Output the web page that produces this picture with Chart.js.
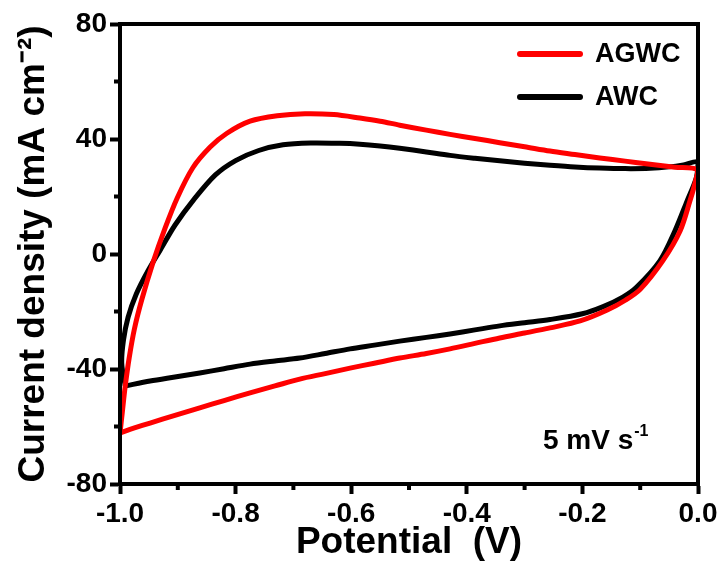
<!DOCTYPE html>
<html>
<head>
<meta charset="utf-8">
<script src="https://cdn.jsdelivr.net/npm/chart.js@4.4.1/dist/chart.umd.min.js"></script>
<style>
  html, body { margin: 0; padding: 0; background: #fff; }
  #wrap { width: 721px; height: 565px; }
</style>
</head>
<body>
<div id="wrap"><canvas id="cv"></canvas></div>
<script>
// AGWC - anodic (upper) branch, -1.0 -> 0.0 V
const agwcUpperV = [-1.0, -0.996, -0.991, -0.984, -0.975, -0.9625, -0.943, -0.922, -0.901, -0.874, -0.844, -0.815, -0.775, -0.728, -0.68, -0.63, -0.585, -0.55, -0.516, -0.47, -0.429, -0.386, -0.343, -0.30, -0.256, -0.213, -0.17, -0.126, -0.083, -0.04, 0.0];
const agwcUpperJ = [-62.3, -55.0, -46.0, -36.0, -26.0, -16.0, -3.0, 9.0, 19.5, 30.0, 37.2, 42.0, 46.2, 48.1, 48.8, 48.5, 47.3, 46.2, 44.8, 43.1, 41.6, 40.2, 38.7, 37.3, 35.8, 34.6, 33.4, 32.3, 31.2, 30.2, 29.2];
// AGWC - cathodic (lower) branch, 0.0 -> -1.0 V
const agwcLowerV = [-0.006, -0.014, -0.031, -0.061, -0.10, -0.125, -0.157, -0.204, -0.256, -0.30, -0.343, -0.386, -0.429, -0.47, -0.516, -0.56, -0.602, -0.645, -0.689, -0.732, -0.775, -0.82, -0.862, -0.905, -0.948, -0.975, -0.991, -1.0];
const agwcLowerJ = [24.0, 18.4, 8.0, -2.4, -12.3, -16.0, -19.5, -23.3, -25.7, -27.5, -29.2, -31.1, -33.0, -34.6, -36.2, -38.0, -39.7, -41.6, -43.5, -45.9, -48.3, -51.0, -53.5, -56.1, -58.8, -60.5, -61.6, -62.3];

// AWC - anodic (upper) branch
const awcUpperV = [-0.991, -0.997, -0.994, -0.986, -0.972, -0.952, -0.93, -0.905, -0.872, -0.835, -0.80, -0.76, -0.718, -0.67, -0.62, -0.585, -0.55, -0.516, -0.47, -0.429, -0.386, -0.343, -0.30, -0.256, -0.213, -0.17, -0.126, -0.083, -0.05, -0.025, 0.0];
const awcUpperJ = [-45.9, -38.0, -30.0, -22.0, -14.0, -6.0, 1.5, 10.0, 19.0, 27.5, 32.5, 36.0, 38.0, 38.6, 38.5, 38.2, 37.6, 36.8, 35.5, 34.3, 33.3, 32.4, 31.6, 30.9, 30.3, 29.9, 29.7, 29.8, 30.3, 31.0, 32.0];
// AWC - cathodic (lower) branch
const awcLowerV = [-0.003, -0.019, -0.040, -0.066, -0.106, -0.13, -0.164, -0.20, -0.256, -0.30, -0.343, -0.386, -0.429, -0.47, -0.516, -0.56, -0.602, -0.645, -0.689, -0.732, -0.775, -0.82, -0.862, -0.905, -0.948, -0.991];
const awcLowerJ = [26.5, 18.4, 8.0, -2.4, -11.5, -15.0, -18.3, -20.8, -22.8, -23.9, -25.0, -26.4, -27.8, -29.0, -30.3, -31.7, -33.0, -34.6, -36.2, -37.2, -38.3, -39.9, -41.4, -42.8, -44.2, -45.9];

const seriesNames = ['AGWC', 'AWC'];
const seriesColors = ['#ff0000', '#000000'];

const xTicks = [-1.0, -0.8, -0.6, -0.4, -0.2, 0.0];
const xMinor = [-0.9, -0.7, -0.5, -0.3, -0.1];
const yTicks = [-80, -40, 0, 40, 80];
const yMinor = [-60, -20, 20, 60];

const FONT = "'Liberation Sans', Arial, Helvetica, sans-serif";

function loop(uv, uj, lv, lj) {
  const pts = [];
  uv.forEach((v, i) => pts.push({x: v, y: uj[i]}));
  lv.forEach((v, i) => pts.push({x: v, y: lj[i]}));
  return pts;
}

// frame, minor ticks, legend, note
const extras = {
  id: 'extras',
  afterDraw(chart) {
    const ctx = chart.ctx;
    const a = chart.chartArea;
    const xs = chart.scales.x, ys = chart.scales.y;
    ctx.save();
    ctx.strokeStyle = '#000';
    ctx.lineWidth = 4;
    ctx.strokeRect(a.left, a.top, a.right - a.left, a.bottom - a.top);

    ctx.beginPath();
    xMinor.forEach(v => {
      const px = xs.getPixelForValue(v);
      ctx.moveTo(px, a.bottom);
      ctx.lineTo(px, a.bottom + 6);
    });
    yMinor.forEach(v => {
      const py = ys.getPixelForValue(v);
      ctx.moveTo(a.left, py);
      ctx.lineTo(a.left - 6, py);
    });
    ctx.stroke();

    // legend
    ctx.lineCap = 'round';
    ctx.lineWidth = 6;
    ctx.font = 'bold 27px ' + FONT;
    ctx.textBaseline = 'middle';
    chart.data.datasets.forEach((ds, i) => {
      const y = 54 + i * 43;
      ctx.strokeStyle = ds.borderColor;
      ctx.beginPath();
      ctx.moveTo(520, y);
      ctx.lineTo(580, y);
      ctx.stroke();
      ctx.fillStyle = '#000';
      ctx.fillText(ds.label, 595, y + 1);
    });

    // scan rate note
    ctx.textBaseline = 'alphabetic';
    ctx.font = 'bold 28px ' + FONT;
    const main = '5 mV s';
    ctx.fillText(main, 543, 449);
    const w = ctx.measureText(main).width;
    ctx.font = 'bold 16px ' + FONT;
    ctx.fillText('-1', 543 + w + 1, 436);
    ctx.restore();
  }
};

new Chart(document.getElementById('cv'), {
  type: 'scatter',
  data: {
    datasets: [
      {
        label: seriesNames[0],
        data: loop(agwcUpperV, agwcUpperJ, agwcLowerV, agwcLowerJ),
        borderColor: seriesColors[0],
        backgroundColor: seriesColors[0],
        showLine: true,
        borderWidth: 5,
        pointRadius: 0,
        tension: 0.3
      },
      {
        label: seriesNames[1],
        data: loop(awcUpperV, awcUpperJ, awcLowerV, awcLowerJ),
        borderColor: seriesColors[1],
        backgroundColor: seriesColors[1],
        showLine: true,
        borderWidth: 5,
        pointRadius: 0,
        tension: 0.3
      }
    ]
  },
  options: {
    responsive: true,
    maintainAspectRatio: false,
    animation: false,
    layout: { padding: { top: 24, right: 23, left: 0, bottom: 0 } },
    plugins: {
      legend: { display: false },
      tooltip: { enabled: false }
    },
    scales: {
      x: {
        type: 'linear',
        min: -1.0,
        max: 0.0,
        afterFit: s => { s.height = 81; },
        afterBuildTicks: s => { s.ticks = xTicks.map(v => ({value: v})); },
        grid: { drawOnChartArea: false, drawTicks: true, tickLength: 10, tickWidth: 4, tickColor: '#000' },
        border: { display: true, color: '#000', width: 4 },
        ticks: {
          color: '#000',
          padding: 3,
          maxRotation: 0,
          font: { family: FONT, size: 28, weight: 'bold' },
          callback: v => Math.abs(v) < 1e-9 ? '0.0' : Number(v).toFixed(1)
        },
        title: {
          display: true,
          text: 'Potential\u00a0\u00a0(V)',
          color: '#000',
          font: { family: FONT, size: 37, weight: 'bold', lineHeight: 1.0 },
          padding: { top: 0, bottom: 4 }
        }
      },
      y: {
        type: 'linear',
        min: -80,
        max: 80,
        afterFit: s => { s.width = 120; },
        afterBuildTicks: s => { s.ticks = yTicks.map(v => ({value: v})); },
        grid: { drawOnChartArea: false, drawTicks: true, tickLength: 10, tickWidth: 4, tickColor: '#000' },
        border: { display: true, color: '#000', width: 4 },
        ticks: {
          color: '#000',
          padding: 3,
          font: { family: FONT, size: 28, weight: 'bold' },
          callback: v => String(v)
        },
        title: {
          display: true,
          text: 'Current density (mA cm\u207B\u00B2)',
          color: '#000',
          font: { family: FONT, size: 37, weight: 'bold' },
          padding: { top: 12, bottom: 0 }
        }
      }
    }
  },
  plugins: [extras]
});
</script>
</body>
</html>
